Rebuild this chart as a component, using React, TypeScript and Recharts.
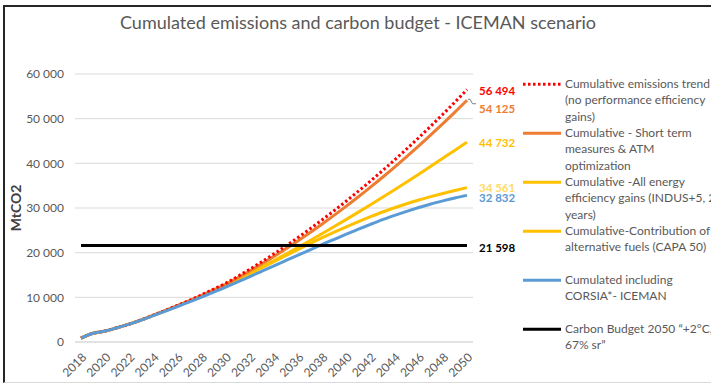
import React from 'react';
import { LineChart, Line, XAxis, YAxis, CartesianGrid, Legend } from 'recharts';

// Years on the horizontal axis
const years = [
  2018, 2019, 2020, 2021, 2022, 2023, 2024, 2025, 2026, 2027, 2028,
  2029, 2030, 2031, 2032, 2033, 2034, 2035, 2036, 2037, 2038, 2039,
  2040, 2041, 2042, 2043, 2044, 2045, 2046, 2047, 2048, 2049, 2050,
];

// Cumulative emissions trend (no performance efficiency gains), MtCO2
const trend = [
  850, 1950, 2450, 3200, 4000, 4950, 6000, 7070, 8200, 9330, 10560,
  11850, 13160, 14700, 16310, 17990, 19740, 21550, 23420, 25360, 27370, 29440,
  31570, 33770, 36040, 38370, 40770, 43225, 45750, 48340, 51000, 53710, 56494,
];

// Cumulative - short term measures & ATM optimization
const shortTerm = [
  850, 1950, 2450, 3200, 4000, 4950, 6000, 7050, 8150, 9280, 10450,
  11650, 12900, 14380, 15910, 17510, 19170, 20900, 22680, 24520, 26430, 28400,
  30430, 32520, 34680, 36890, 39170, 41500, 43900, 46370, 48890, 51470, 54125,
];

// Cumulative - all energy efficiency gains
const efficiency = [
  850, 1950, 2450, 3200, 4000, 4950, 5980, 7020, 8100, 9200, 10350,
  11550, 12800, 14100, 15440, 16820, 18240, 19700, 21200, 22725, 24275, 25850,
  27450, 29075, 30725, 32400, 34100, 35825, 37575, 39350, 41150, 42950, 44732,
];

// Cumulative - contribution of alternative fuels
const altFuels = [
  850, 1950, 2450, 3200, 4000, 4930, 5960, 7000, 8060, 9150, 10280,
  11450, 12700, 14000, 15320, 16660, 18010, 19370, 20730, 22050, 23350, 24600,
  25800, 26950, 28050, 29100, 30050, 30950, 31800, 32550, 33250, 33920, 34561,
];

// Cumulated including CORSIA - ICEMAN
const corsia = [
  850, 1950, 2450, 3200, 4000, 4900, 5900, 6900, 7950, 9000, 10050,
  11150, 12300, 13450, 14650, 15850, 17050, 18250, 19450, 20650, 21850, 23000,
  24150, 25250, 26350, 27400, 28350, 29250, 30100, 30900, 31600, 32250, 32832,
];

// Carbon budget 2050 (+2°C, 67%)
const carbonBudget = 21598;

const yTicks = [0, 10000, 20000, 30000, 40000, 50000, 60000];

const legendTexts: Record<string, string[]> = {
  trend: ['Cumulative emissions trend', '(no performance efficiency', 'gains)'],
  shortTerm: ['Cumulative - Short term', 'measures & ATM', 'optimization'],
  efficiency: ['Cumulative -All energy', 'efficiency gains (INDUS+5, 25', 'years)'],
  altFuels: ['Cumulative-Contribution of', 'alternative fuels (CAPA 50)'],
  corsia: ['Cumulated including', 'CORSIA*- ICEMAN'],
  budget: ['Carbon Budget 2050 \u201C+2°C,', '67% sr\u201D'],
};

const data = years.map((year, i) => ({
  year: String(year),
  trend: trend[i],
  shortTerm: shortTerm[i],
  efficiency: efficiency[i],
  altFuels: altFuels[i],
  corsia: corsia[i],
  budget: carbonBudget,
}));

const FONT = "Lato, 'Open Sans', sans-serif";
const GREY = '#595959';

type SeriesStyle = {
  key: string;
  color: string;
  labelColor: string;
  dash?: string;
  labelDy: number;
  leader?: boolean;
};

// Styles, in legend order
const seriesStyles: SeriesStyle[] = [
  { key: 'trend', color: '#FF0000', labelColor: '#FF0000', dash: '2.5 2.5', labelDy: 1 },
  { key: 'shortTerm', color: '#ED7D31', labelColor: '#ED7D31', labelDy: 8.5, leader: true },
  { key: 'efficiency', color: '#FFC000', labelColor: '#FFC000', labelDy: 0.5 },
  { key: 'altFuels', color: '#FFC000', labelColor: '#FFD966', labelDy: 0 },
  { key: 'corsia', color: '#5B9BD5', labelColor: '#5B9BD5', labelDy: 2.5 },
  { key: 'budget', color: '#000000', labelColor: '#000000', labelDy: 2 },
];

// Back-to-front drawing order
const drawOrder = ['efficiency', 'altFuels', 'shortTerm', 'trend', 'corsia', 'budget'];

const fmt = (v: number) => String(v).replace(/\B(?=(\d{3})+(?!\d))/g, ' ');

const lastIndex = years.length - 1;

const makeEndLabel = (s: SeriesStyle) => (props: any) => {
  const { x, y, index, value } = props;
  if (index !== lastIndex) return null;
  return (
    <g key={`end-${s.key}`}>
      {s.leader && (
        <polyline
          points={`${x + 1},${y - 1} ${x + 3},${y - 1} ${x + 5.5},${y + 3.5} ${x + 9},${y + 3.5}`}
          fill="none"
          stroke="#7F7F7F"
          strokeWidth={1}
        />
      )}
      <text
        x={x + 12}
        y={y + s.labelDy}
        dominantBaseline="central"
        fill={s.labelColor}
        fontFamily={FONT}
        fontWeight={700}
        fontSize={11.5}
      >
        {fmt(value)}
      </text>
    </g>
  );
};

const XTick = (props: any) => {
  const { x, y, payload } = props;
  const ax = x + 3;
  const ay = y + 13;
  return (
    <text
      x={ax}
      y={ay}
      transform={`rotate(-45 ${ax} ${ay})`}
      textAnchor="end"
      dominantBaseline="central"
      fill={GREY}
      fontFamily={FONT}
      fontSize={12}
    >
      {payload.value}
    </text>
  );
};

const AxisTitle = (props: any) => {
  const vb = props.viewBox || { x: 15, y: 74, width: 60, height: 268 };
  const cx = vb.x;
  const cy = vb.y + vb.height / 2;
  return (
    <text
      x={cx}
      y={cy}
      transform={`rotate(-90 ${cx} ${cy})`}
      textAnchor="middle"
      dominantBaseline="central"
      fill="#404040"
      fontFamily={FONT}
      fontWeight={700}
      fontSize={14}
    >
      MtCO2
    </text>
  );
};

const LegendBlock = () => (
  <div style={{ position: 'relative', width: 188, height: 300, fontFamily: FONT }}>
    {seriesStyles.map((s, i) => (
      <div key={s.key} style={{ position: 'absolute', left: 0, top: i * 49, width: 200 }}>
        <svg width={38} height={16} style={{ position: 'absolute', left: 0, top: 0 }}>
          <line
            x1={0}
            x2={38}
            y1={8.2}
            y2={8.2}
            stroke={s.color}
            strokeWidth={3}
            strokeDasharray={s.dash}
          />
        </svg>
        <div
          style={{
            position: 'absolute',
            left: 42,
            top: 0,
            fontSize: 12,
            lineHeight: '16.3px',
            color: GREY,
            whiteSpace: 'nowrap',
          }}
        >
          {legendTexts[s.key].map((t) => (
            <div key={t}>{t}</div>
          ))}
        </div>
      </div>
    ))}
  </div>
);

export default function App() {
  return (
    <div
      style={{
        position: 'absolute',
        left: 0,
        top: 0,
        width: 711,
        height: 383,
        background: '#ffffff',
        overflow: 'hidden',
      }}
    >
      <div
        style={{
          position: 'absolute',
          left: 3,
          top: 5,
          width: 720,
          height: 375,
          borderTop: '2px solid #262626',
          borderLeft: '2px solid #262626',
          borderBottom: '1px solid #D9D9D9',
        }}
      />
      <div
        style={{
          position: 'absolute',
          left: 0,
          top: 10,
          width: 716,
          textAlign: 'center',
          fontFamily: FONT,
          fontSize: 18,
          lineHeight: '24px',
          color: GREY,
        }}
      >
        Cumulated emissions and carbon budget - ICEMAN scenario
      </div>
      <div style={{ position: 'absolute', left: 0, top: 0 }}>
        <LineChart
          width={711}
          height={383}
          data={data}
          margin={{ top: 74, right: 238, bottom: 0, left: 15 }}
        >
          <CartesianGrid vertical={false} stroke="#D9D9D9" strokeWidth={1} />
          <XAxis
            dataKey="year"
            interval={1}
            padding={{ left: 6, right: 6 }}
            height={41}
            tickLine={false}
            tickSize={0}
            tickMargin={0}
            axisLine={{ stroke: '#D9D9D9' }}
            tick={<XTick />}
          />
          <YAxis
            width={60}
            domain={[0, 60000]}
            ticks={yTicks}
            tickFormatter={fmt}
            axisLine={false}
            tickLine={false}
            tickSize={0}
            tickMargin={11}
            tick={{ fill: GREY, fontSize: 12, fontFamily: FONT }}
            label={<AxisTitle />}
          />
          {drawOrder.map((k) => {
            const s = seriesStyles.find((v) => v.key === k)!;
            return (
              <Line
                key={k}
                type="monotone"
                dataKey={k}
                stroke={s.color}
                strokeWidth={3}
                strokeDasharray={s.dash}
                dot={false}
                activeDot={false}
                isAnimationActive={false}
                label={makeEndLabel(s)}
              />
            );
          })}
          <Legend
            layout="vertical"
            align="center"
            verticalAlign="middle"
            wrapperStyle={{ left: 523, top: 76, width: 188, height: 300 }}
            content={() => <LegendBlock />}
          />
        </LineChart>
      </div>
    </div>
  );
}
